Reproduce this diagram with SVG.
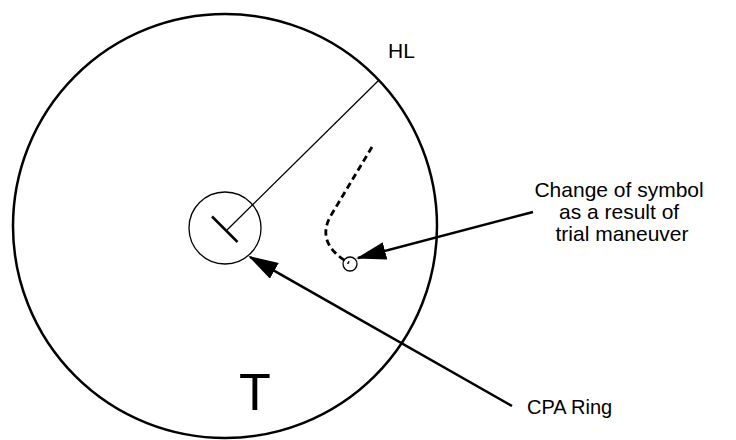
<svg xmlns="http://www.w3.org/2000/svg" width="736" height="440" viewBox="0 0 736 440">
  <style>
    .txt { font-family: "Liberation Sans", Arial, sans-serif; fill: #000; }
    .thin { fill: none; stroke: #000; stroke-width: 1.3; }
    .thick { fill: none; stroke: #000; stroke-width: 2.5; }
  </style>
  <defs>
    <marker id="ah" viewBox="0 0 30 18" refX="28" refY="9" markerWidth="30" markerHeight="18" markerUnits="userSpaceOnUse" orient="auto">
      <path d="M0,0 L30,9 L0,18 z" fill="#000"/>
    </marker>
  </defs>
  <rect width="736" height="440" fill="#fff"/>
  <g id="range-circle">
    <circle cx="225" cy="226" r="212" class="thick"/>
  </g>
  <g id="hl">
    <line x1="227" y1="230" x2="379" y2="80" class="thin"/>
    <text x="388" y="58" class="txt" font-size="21">HL</text>
  </g>
  <g id="own-ship">
    <circle cx="225" cy="228" r="36" class="thin"/>
    <line x1="212" y1="216.5" x2="237.5" y2="242" class="thick"/>
  </g>
  <g id="target">
    <path d="M372,147 L330,217 Q316,244 349,263" fill="none" stroke="#000" stroke-width="2.8" stroke-dasharray="6.5,4"/>
    <circle cx="350" cy="264" r="7" class="thin"/>
  </g>
  <g id="trial-label">
    <text class="txt" font-size="21" text-anchor="middle">
      <tspan x="622" y="197">Change of symbol</tspan>
      <tspan x="622" y="219">as a result of</tspan>
      <tspan x="622" y="241">trial maneuver</tspan>
    </text>
  </g>
  <g id="cpa-label">
    <text x="527" y="414" class="txt" font-size="20">CPA Ring</text>
  </g>
  <g id="t-label">
    <text x="255" y="410" class="txt" font-size="52" text-anchor="middle">T</text>
  </g>
  <g id="connectors">
    <line x1="533" y1="212" x2="358" y2="258" class="thick" marker-end="url(#ah)"/>
    <line x1="512" y1="406" x2="250" y2="257" class="thick" marker-end="url(#ah)"/>
  </g>
</svg>
